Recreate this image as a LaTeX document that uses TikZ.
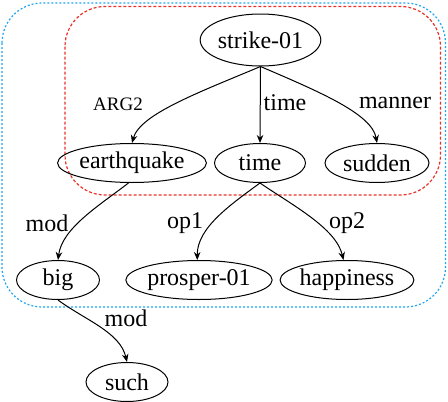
\documentclass[tikz,border=0pt]{standalone}
\usepackage{fontspec}
\setmainfont{Liberation Serif}
\usetikzlibrary{shapes.geometric,arrows.meta}
\definecolor{boxred}{RGB}{232,50,42}
\definecolor{boxblue}{RGB}{30,165,240}
\begin{document}
\begin{tikzpicture}[x=1pt,y=-1pt,
  ell/.style={draw,ellipse,line width=1pt,inner sep=0pt,minimum height=39pt,font=\rmfamily\fontsize{24}{28}\selectfont},
  lbl/.style={inner sep=0pt,font=\rmfamily\fontsize{24}{28}\selectfont},
  sml/.style={inner sep=0pt,font=\rmfamily\fontsize{19}{22}\selectfont},
  edge/.style={line width=1pt,-{Stealth[length=8pt,width=6.5pt]}},
  redbox/.style={draw=boxred,line width=1.2pt,dash pattern=on 3pt off 2pt,rounded corners=40pt},
  bluebox/.style={draw=boxblue,line width=1.2pt,dash pattern=on 2pt off 2pt,rounded corners=40pt}]
\useasboundingbox (0,0) rectangle (448,402);
\draw[bluebox] (2,3) rectangle (445.5,307);
\draw[redbox] (65,6.5) rectangle (440.5,195);
\node[ell,minimum width=113pt,minimum height=52pt] (s) at (260.5,40) {strike-01};
\node[ell,minimum width=120pt] (eq) at (132,163) {earthquake};
\node[ell,minimum width=91pt] (t) at (260,163) {time};
\node[ell,minimum width=104pt] (sd) at (377,163) {sudden};
\node[ell,minimum width=83pt] (b) at (58,280) {big};
\node[ell,minimum width=132pt] (p) at (199,280) {prosper-01};
\node[ell,minimum width=120pt] (h) at (347,280) {happiness};
\node[ell,minimum width=82pt] (su) at (127,382) {such};
\draw[edge] (s.south) .. controls (200,92) and (140,114) .. (eq.north);
\draw[edge] (s.south) -- (t.north);
\draw[edge] (s.south) .. controls (320,92) and (372,114) .. (sd.north);
\draw[edge] (eq.-100) .. controls (100,205) and (62,228) .. (b.north);
\draw[edge] (t.south) .. controls (230,205) and (197,228) .. (p.95);
\draw[edge] (t.south) .. controls (292,205) and (336,228) .. (h.100);
\draw[edge] (b.south) .. controls (85,320) and (120,332) .. (su.north);
\node[sml] (l1) at (118,104) {ARG2};
\node[lbl] (l2) at (285,103) {time};
\node[lbl] (l3) at (395,103) {manner};
\node[lbl] (l4) at (47,223) {mod};
\node[lbl] (l5) at (185,223) {op1};
\node[lbl] (l6) at (347,223) {op2};
\node[lbl] (l7) at (126,318) {mod};
\end{tikzpicture}
\end{document}
